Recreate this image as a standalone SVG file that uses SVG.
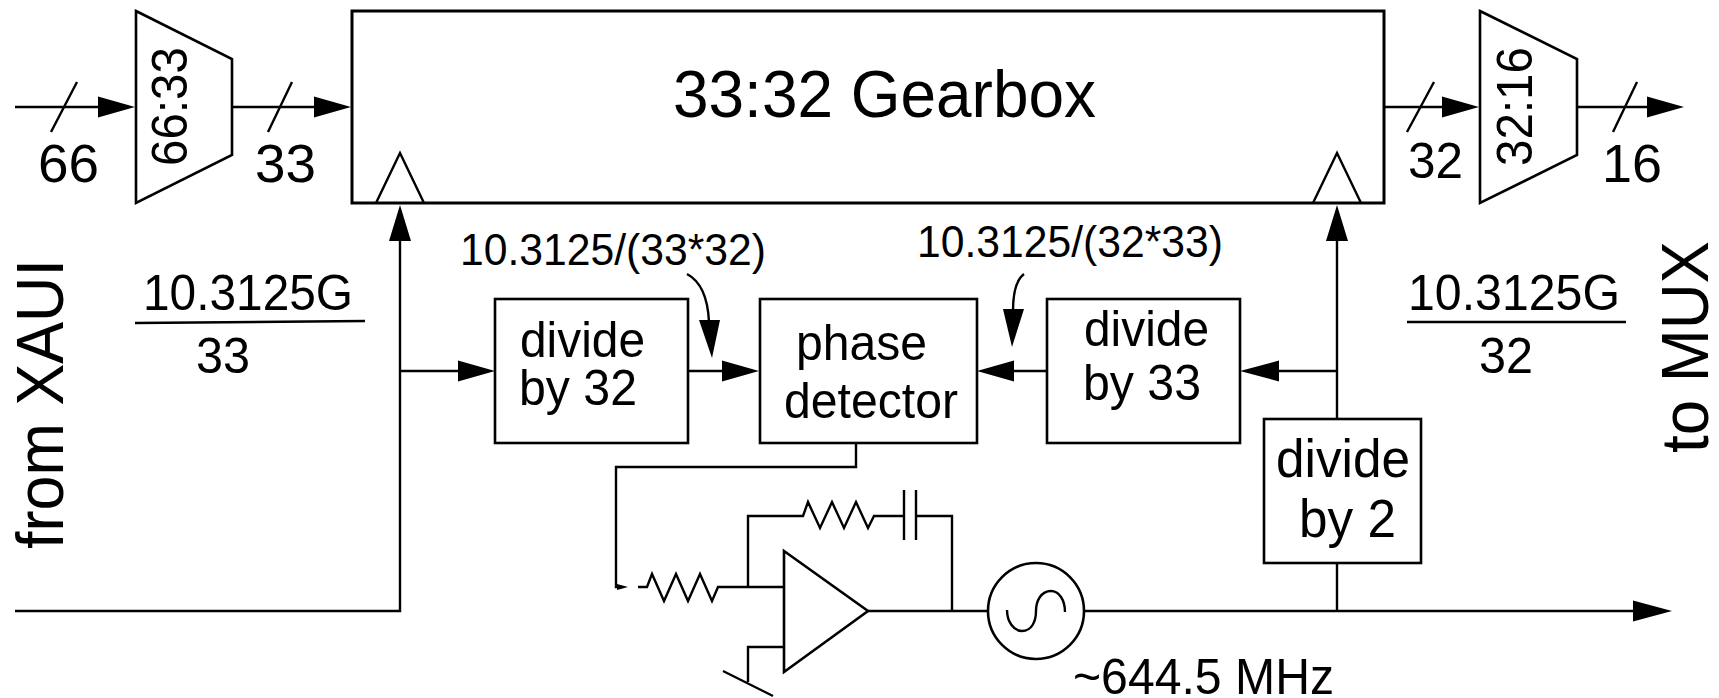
<svg xmlns="http://www.w3.org/2000/svg" width="1719" height="698" viewBox="0 0 1719 698">
<style>
text{font-family:"Liberation Sans",Arial,sans-serif;fill:#000;font-size:50px}
.s{fill:none;stroke:#000;stroke-width:2.4;stroke-linejoin:miter}
.b{fill:#fff;stroke:#000;stroke-width:2.6}
.h{fill:#000;stroke:none}
</style>
<g id="connectors" class="s">
<path d="M15 107H98M232 107H314M1384 107H1443M1577 107H1647"/>
<path d="M77 82L51 132M292 82L268 132M1434 82L1407 132M1637 82L1613 132"/>
<path d="M15 611H400V241M400 371H458M688 371H722M1014 371H1047M1279 371H1337M1337 241V419M1337 563V611M1084 611H1633"/>
<path d="M856 443V467H616V587H622"/>
<path d="M638 587H647L652 574L664 601L676 574L688 601L700 574L712 601L718 587H784"/>
<path d="M748 587V516H803L808 502L820 528L832 502L844 528L856 502L868 528L874 516H904M916 516H952V611M868 611H988"/>
<path d="M904 490V540M916 490V540"/>
<path d="M784 647H748V682M723 671L773 696"/>
<path d="M687 274C702 282 708 300 709 322"/>
<path d="M1024 274C1016 280 1013 292 1013 311"/>
<path d="M135 323L365 321M1407 322H1626"/>
<g class="h">
<path d="M135 107L98 96.500V117.500ZM351 107L314 96.500V117.500ZM1479 107L1442 96.500V117.500ZM1684 107L1647 96.500V117.500Z"/>
<path d="M400 205L389 241H411ZM1337 205L1326 241H1348Z"/>
<path d="M495 371L458 360.500V381.500ZM759 371L722 360.500V381.500ZM977 371L1014 360.500V381.500ZM1240 371L1279 360.500V381.500Z"/>
<path d="M1672 611L1633 600.500V621.500Z"/>
<path d="M628 587L617 584V590Z"/>
<path d="M712 358L699 320H720ZM1012 347L1003 309H1024Z"/>
</g>
</g>
<g id="gearbox"><rect class="b" x="352" y="11" width="1032" height="192" style="stroke-width:3"/><path class="s" d="M376 203L400 153L424 203M1313 203L1337 153L1361 203"/><text x="673" y="117" style="font-size:66px" textLength="423" lengthAdjust="spacingAndGlyphs">33:32 Gearbox</text></g>
<g id="mux-66-33"><path class="b" d="M136 11L232 59V155L136 203Z"/><text transform="translate(187 166) rotate(-90)" textLength="119" lengthAdjust="spacingAndGlyphs">66:33</text></g>
<g id="mux-32-16"><path class="b" d="M1480 11L1577 59V155L1480 203Z"/><text transform="translate(1532 166) rotate(-90)" textLength="119" lengthAdjust="spacingAndGlyphs">32:16</text></g>
<g id="divide-by-32"><rect class="b" x="495" y="299" width="193" height="144"/><text x="520" y="357" textLength="125" lengthAdjust="spacingAndGlyphs">divide</text><text x="519" y="405" textLength="118" lengthAdjust="spacingAndGlyphs">by 32</text></g>
<g id="phase-detector"><rect class="b" x="760" y="299" width="217" height="144"/><text x="796" y="360" textLength="131" lengthAdjust="spacingAndGlyphs">phase</text><text x="784" y="418" textLength="174" lengthAdjust="spacingAndGlyphs">detector</text></g>
<g id="divide-by-33"><rect class="b" x="1047" y="299" width="193" height="144"/><text x="1084" y="346" textLength="125" lengthAdjust="spacingAndGlyphs">divide</text><text x="1083" y="400" textLength="118" lengthAdjust="spacingAndGlyphs">by 33</text></g>
<g id="divide-by-2"><rect class="b" x="1264" y="419" width="157" height="144"/><text x="1276" y="477" style="font-size:53px" textLength="134" lengthAdjust="spacingAndGlyphs">divide</text><text x="1299" y="537" style="font-size:53px" textLength="97" lengthAdjust="spacingAndGlyphs">by 2</text></g>
<g id="amplifier"><path class="b" d="M784 551L868 611L784 672Z"/></g>
<g id="oscillator"><circle class="b" cx="1036" cy="611" r="48"/><path class="s" d="M1007 610C1007 622 1014 631 1022 631C1032 631 1036 621 1036 611C1036 601 1041 591 1051 591C1059 591 1065 600 1065 612"/></g>
<g id="labels">
<text x="38" y="182" style="font-size:53px" textLength="61" lengthAdjust="spacingAndGlyphs">66</text>
<text x="255" y="182" style="font-size:53px" textLength="61" lengthAdjust="spacingAndGlyphs">33</text>
<text x="1408" y="178" style="font-size:50px" textLength="55" lengthAdjust="spacingAndGlyphs">32</text>
<text x="1602" y="182" style="font-size:53px" textLength="60" lengthAdjust="spacingAndGlyphs">16</text>
<text x="143" y="310" textLength="210" lengthAdjust="spacingAndGlyphs">10.3125G</text>
<text x="196" y="373" textLength="54" lengthAdjust="spacingAndGlyphs">33</text>
<text x="1408" y="310" textLength="212" lengthAdjust="spacingAndGlyphs">10.3125G</text>
<text x="1479" y="373" textLength="54" lengthAdjust="spacingAndGlyphs">32</text>
<text x="460" y="265" style="font-size:44px" textLength="306" lengthAdjust="spacingAndGlyphs">10.3125/(33*32)</text>
<text x="917" y="257" style="font-size:44px" textLength="306" lengthAdjust="spacingAndGlyphs">10.3125/(32*33)</text>
<text x="1073" y="694" style="font-size:50px" textLength="261" lengthAdjust="spacingAndGlyphs">~644.5 MHz</text>
<text transform="translate(63 549) rotate(-90)" style="font-size:66px" textLength="290" lengthAdjust="spacingAndGlyphs">from XAUI</text>
<text transform="translate(1708 453) rotate(-90)" style="font-size:66px" textLength="212" lengthAdjust="spacingAndGlyphs">to MUX</text>
</g>
</svg>
